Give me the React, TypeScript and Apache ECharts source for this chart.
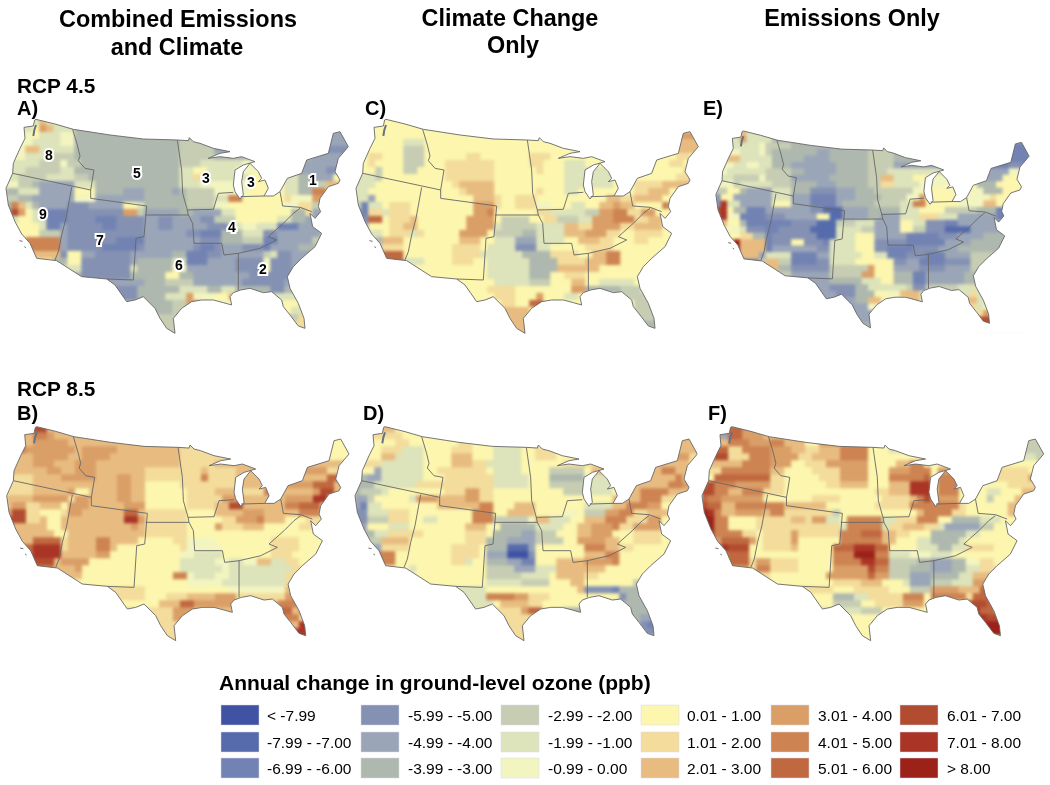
import React, { useEffect, useRef } from "react";
import * as echarts from "echarts";

const legendLabels = ["< -7.99","-7.99 - -7.00","-6.99 - -6.00","-5.99 - -5.00","-4.99 - -4.00","-3.99 - -3.00","-2.99 - -2.00","-1.99 - -1.00","-0.99 - 0.00","0.01 - 1.00","1.01 - 2.00","2.01 - 3.00","3.01 - 4.00","4.01 - 5.00","5.01 - 6.00","6.01 - 7.00","7.01 - 8.00","> 8.00"];
const classColors = ["#3f52a3","#566bac","#7283b3","#8491b3","#9aa5b8","#aeb8ae","#c6cdb3","#dde3ba","#f3f5c0","#fcf6ae","#f3dc9c","#e8bc80","#da9e67","#cd8352","#c06840","#b24c30","#aa3526","#9c2119"];
const classKeys = "abcdefghijklmnopqr";

// Each row: class letter + the column at which that class stops.
const panelA = [
"h5 l6 h50","h4 j5 m6 l7 h10 f50","i4 j5 h8 i10 f44 e50","i4 h8 i10 f25 g46 e50","i3 l5 h10 f25 g30 e45 d50","i3 h7 g10 f25 g30 f44 e50",
"h5 g8 i9 g11 f25 g28 h34 i42 e50","h3 g8 h10 f25 h27 j29 h33 i37 i42 e46 d49 j50","h2 g6 h10 g12 f25 h27 k29 h35 j40 h42 f44 e47 j50",
"i2 g4 f5 e10 h13 f25 h28 i35 j40 h42 f44 g46 l48 j50","f2 h5 e10 j13 f17 e20 f24 e25 f26 g30 i35 j40 h42 f44 n46 j50","g2 f4 e10 i13 e20 f26 g30 h32 n34 j40 k41 i44 m46 j50",
"f1 n2 l3 h4 f5 e9 d12 e17 j19 h20 f26 g30 i32 j40 i42 k44 g46 j50","e1 p2 m3 j4 h5 e6 c9 d17 m19 g20 e25 f27 e31 h33 j41 f43 k44 e50","h2 j4 h6 c9 d13 c16 d20 e22 d24 e28 d30 g33 j39 h41 f43 e50",
"j5 h6 c8 e9 d14 c16 d20 e22 d24 e29 d32 h34 i36 h39 c42 e50","j5 g8 e9 d20 e26 d28 c31 f34 h37 d39 e45 f50","i3 n8 e9 d16 c20 e28 d31 f34 g37 c39 e44 g50",
"j3 n8 e9 d14 c19 d20 e27 d28 c30 d31 e34 d37 c38 e42 f50","l8 d9 j11 e13 d18 e24 f26 c29 d31 e37 g38 h39 d41 e50","k7 f9 j11 d18 e19 f24 h26 c29 e33 d37 i38 d41 e50",
"h11 d18 h19 f24 j25 i26 e33 d37 j38 d41 e50","f11 d18 f23 j25 f27 e35 d50","e20 f23 g27 e34 d40 e50","d19 f25 h29 f31 h33 f38 d40 f50",
"d19 f23 h26 m27 i30 j32 l33 i38 h50","f24 g26 m28 i40 j42 h50","f24 g28 i40 j41 h50","g42 k43 i50","g40 k50","g50",
];
const panelC = [
"j50","j50","j44 m50","j7 h10 j44 l50","j7 g10 j46 l50","j2 k4 j7 g10 j16 k18 j25 k28 j46 k48 j50",
"j2 k3 j7 g10 j13 k20 j25 k27 j30 h33 j45 k47 j50","j3 g4 j7 g9 j13 k20 j26 k27 j30 h37 j47 k48 j50","h3 g4 j13 k20 j30 h37 j46 k48 l50",
"h3 j14 k15 l20 j30 h37 j40 k44 l48 k50","h2 j15 k16 l20 j26 k27 j30 h32 j40 k42 l45 j50","h2 e3 j17 l20 k21 j23 k26 j36 l38 k40 l44 j50",
"g1 c2 h4 j5 k8 j17 m20 k21 j23 k26 i28 j31 h33 j35 l37 m38 l40 j44 n45 j50","e1 c2 k4 h5 k8 j17 m19 n20 j26 k28 h33 g35 m37 n39 k41 m43 j50","d2 o4 j5 k8 l9 j16 m20 j21 g25 j27 k29 g32 h34 m37 n40 k42 l44 j50",
"e2 j5 k7 l9 j16 m20 h21 g26 h30 l32 k34 m38 k40 l44 j50","h4 j5 k8 h9 k10 j15 m19 j20 g24 f26 h30 l33 m36 k38 j40 k44 j50","i3 f4 l7 j15 l18 j20 h23 e26 h30 j32 l35 k37 j40 k42 j50",
"g4 k7 j14 k18 j19 h23 d26 h28 j33 k37 j50","o7 j14 k18 h24 f28 k32 j34 l36 n38 j50","o7 h10 j14 k17 j19 h25 f29 k33 l36 n38 j50",
"j19 h25 f29 l33 l35 j50","j19 h25 f28 j30 k33 j50","j20 h25 g28 j31 l33 j35 h40 j50","j19 k23 j31 m33 f38 g41 j50",
"j20 k23 j26 m27 j30 h32 j38 g50","j21 k23 j25 o27 j40 g50","l25 j40 g50","l26 g50","l30 f50","l50",
];
const panelE = [
"h4 l5 h50","h4 m5 h9 f50","h7 i8 g12 f24 g45 c50","i4 h7 i8 g9 f16 e18 f24 g28 f40 c50","h2 l4 h9 f14 e18 f24 g28 f43 c50","i3 h5 i7 h9 f12 e19 f24 g28 e42 c46 d50",
"i2 h8 g12 f14 e19 f24 g27 h42 e46 i50","h3 g7 i8 g12 e18 f24 g26 l28 h31 j33 i42 e45 j50","i3 g4 h9 g12 f16 e19 f24 g26 k28 h32 i37 j41 f44 j50",
"g2 j4 f5 e9 h12 f15 d19 e22 f25 g31 i33 j37 i42 f45 j50","d1 j3 e9 h12 e15 c19 e22 f26 g30 i32 m33 j38 h39 i43 k44 j50","d1 q2 h4 e9 j12 e15 c19 e20 f25 g29 h31 n33 j38 i42 l44 j50",
"p1 q2 j3 f5 c8 e15 d17 b20 e24 f29 h32 j36 g41 f44 c46 e50","p1 q2 i4 c8 d11 e16 j18 b20 e24 f26 e29 h32 k35 h38 e44 c46 e50","l2 j4 f5 c8 c12 d16 b19 g22 h25 e29 j31 h33 d36 c38 e50",
"i4 h5 d8 c10 d15 b19 h23 g25 e29 j31 g33 d36 b40 e50","j4 k6 f8 c9 d16 b19 h22 j25 e30 c35 d38 e42 f50","k3 r4 l8 c9 d12 j14 d17 c18 h22 j25 d30 c36 e40 f50",
"r4 l8 c9 e16 d18 h22 j25 d27 c31 d35 e38 f50","l7 e8 h12 c16 e18 h23 j25 h27 c30 d33 c36 e40 g50","d7 g8 l10 g12 c16 d18 h22 j28 d30 e32 c36 d40 g50",
"g8 l10 f12 d18 g24 m25 j28 e32 d36 e40 g50","g12 e18 g23 m25 j28 f31 c33 e39 f50","e18 f23 h26 j28 f31 c33 e39 f50","e18 d22 f24 h30 g31 d33 g38 h50",
"e19 d22 f25 j27 i29 l32 h40 k41 h50","e22 f24 l26 i30 l32 h39 l41 h50","e24 i28 j39 k41 h42 i50","e40 i41 k42 m50","e41 p50","f40 n50",
];
const panelB = [
"o4 p6 l50","l4 n6 m7 l44 j50","l4 m9 l25 k44 j50","n3 m10 l11 m16 l25 k44 j50","l4 m9 l11 m15 l25 k43 j50","l4 m7 l10 m13 l25 k30 l50",
"l6 m8 l10 m13 l20 k28 l29 k33 l42 m46 k48 l50","k4 l8 m13 l16 m18 l20 k28 n29 k33 l40 m42 l46 o49 l50","k4 l16 m18 l20 j25 k33 l40 m44 o47 l50",
"k4 l9 m10 j12 l16 m18 l20 j26 k30 l33 k37 n38 l44 m45 p47 l50","l4 m9 k10 m12 l16 m18 l20 j26 k31 m34 l40 m44 q46 l50","l1 m3 k5 l8 j9 m12 l17 m20 j26 k30 l32 p34 l40 n42 o45 l50",
"m1 p3 k5 j8 k9 m11 l17 o19 l20 k26 j30 l34 m37 l42 n45 k50","p3 k5 l6 j8 l17 q19 m20 k26 j31 k33 m36 n37 l40 j43 k50","l6 j8 l18 m19 l20 k26 j30 m31 k34 l37 j42 k50",
"l7 j9 l20 k26 j50","l4 o8 k9 l13 n15 l19 j24 k26 i30 j38 k42 j50","o4 q8 k9 l13 n15 l16 j25 k26 i31 j38 k42 j50",
"o4 q8 l13 m15 j25 i27 h31 j38 k41 j50","p7 l8 m12 j25 h30 i32 h34 i36 l38 h40 k42 j50","n7 l10 m11 j25 h31 i32 h41 k50",
"l11 j24 n26 i27 h30 i32 h40 k50","j26 i31 h40 k50","k20 j32 i40 l50","k20 j23 k26 l30 m33 k40 m50",
"j22 l25 o27 m33 l39 n50","k24 m27 l39 o41 l42 m50","k24 m26 k39 n42 k50","k26 l42 q50","k26 q50","k26 p50",
];
const panelD = [
"l6 j50","k7 j44 m50","j6 k8 j15 k17 j20 i24 j25 k29 j45 l50","j4 k7 h10 j14 k17 j20 h24 j26 k29 j46 l50","j4 l6 h10 j14 l17 j20 h24 j26 k29 j43 l46 m48 k50","k4 h10 j14 l17 k19 h24 j30 k40 l48 j50",
"j3 e4 h10 j12 k19 j20 h24 j28 g33 j34 l44 n46 l48 j50","f2 e4 h10 j13 k20 h25 j28 f33 i34 h37 j40 l46 n47 l50","f3 h9 k20 h25 j28 g33 h37 j40 l45 n47 m50",
"f1 g4 h5 j13 k16 m18 k20 j30 g33 h37 j39 l41 n45 l48 j50","e2 g3 j8 h9 m12 l16 m18 k20 j37 l41 n44 k46 j50","e1 c2 h4 j12 l18 n20 j23 l26 j33 h37 l39 n42 m44 j50",
"d2 h5 k8 j17 n20 j22 l26 j30 i32 j33 g36 m38 n40 k42 l45 j50","d2 g5 k8 j10 h12 j17 n20 g25 i26 l28 h31 j33 l36 n39 k42 m44 j50","e2 j5 h8 j16 l19 j21 f26 h30 j32 l34 m37 n38 k40 m44 j50",
"f3 h5 k10 j16 k19 j20 f24 e26 g29 j32 l34 m37 j40 k44 j50","g4 l8 j16 k19 f22 e26 g30 j32 m36 l38 j40 k44 j50","e4 k8 j14 k18 j19 f22 b25 e26 j33 n36 l38 k40 j50",
"n6 j14 k18 j19 e22 a25 d26 j33 l36 n38 j50","n6 j14 k16 h17 j19 f22 e24 c26 j29 l33 m37 n38 j50","j8 h9 j19 g23 e26 h29 l36 j50",
"j19 g24 h28 j29 l33 k35 j50","j19 h24 g28 j31 l33 j40 g41 j50","h19 j32 l33 d37 c38 f41 g50","h19 n23 m25 k28 j38 d39 f42 g50",
"h20 j21 l25 k27 j33 f50","k24 m25 o27 j30 f50","k26 f41 e50","k26 f41 d42 c50","k26 d50","k50",
];
const panelF = [
"n4 o6 m50","m3 e4 o6 m9 l13 m14 l15 j16 m24 k50","l4 n7 m10 n12 l15 j17 m24 j44 g50","o4 k6 n10 m13 l15 k17 l20 n24 j27 h29 j46 g50","n2 p4 k7 n10 m14 k16 l20 n24 j44 h48 g50","l6 n10 m13 j15 k18 m24 j28 l30 n32 j50",
"k3 n10 l12 j16 k20 m24 j27 m30 n33 j34 m37 j42 k47 j50","j2 o10 k12 j17 k20 m24 j27 n32 o33 j34 n37 j40 n42 k47 m50","o1 p2 n5 m10 k12 j18 k20 l24 j27 l30 q33 j34 n37 j44 k48 l50",
"p2 n4 l6 n9 k12 j20 j25 k27 l30 q33 j34 n37 j41 h43 j46 l49 j50","o1 n3 m9 j16 k20 j26 k30 l31 n32 p33 m37 j41 g42 j45 l47 j50","p1 o3 l5 n12 l18 j25 k30 n37 k38 j44 l46 j50",
"r1 q2 n3 l5 m9 l10 n12 k19 g20 j31 l32 n36 k38 j44 l46 j50","r2 n4 j8 k13 l15 k16 m18 h20 j21 n26 h28 k31 n34 j36 f40 h43 j50","r2 n4 j8 k20 h21 n26 h27 k29 l32 k34 h35 e40 g42 j50",
"q2 n6 k8 j9 k13 m14 k20 n23 o26 l28 k30 j33 f38 h40 j50","m3 o7 m8 j9 k13 m14 j20 n26 l28 j31 h33 f37 h38 j50","n3 q4 p7 j9 k13 l14 j19 o22 q25 o27 j31 h34 f36 h38 k42 j50",
"n4 o7 j19 n22 r25 n27 h30 i33 h36 j50","o7 k8 m10 k14 j19 n23 q25 o27 g31 f33 e36 f38 i40 k42 j50","m7 k8 n10 k14 j19 m24 p25 n27 g30 f33 e36 f38 h40 k50",
"k10 j18 m24 o25 m27 g30 e33 f37 h39 l50","j19 k23 l26 j29 h30 e33 g36 h39 m50","k19 j22 k27 j30 g33 m37 l40 o50","j19 f22 h24 k29 n32 j33 n38 k39 o50",
"j19 g23 j25 k29 m32 j38 p41 o50","h23 g26 j38 q40 o42 n50","j39 q41 p50","j40 q41 r50","j40 r50","j50",
];

const outline = [[108,148],[165,162],[220,178],[330,195],[430,207],[532,210],[565,212],[568,203],[580,215],[600,220],[640,235],[690,245],[660,250],[625,265],[660,260],[700,265],[725,260],[765,275],[730,285],[705,300],[700,345],[705,365],[720,387],[730,375],[725,335],[730,305],[750,280],[775,305],[785,325],[775,335],[795,330],[805,355],[792,378],[820,378],[840,365],[862,325],[905,310],[920,270],[985,250],[1000,190],[1020,185],[1045,230],[1015,265],[1005,305],[1020,330],[1015,340],[985,350],[960,385],[955,410],[962,425],[945,445],[930,430],[938,470],[965,490],[945,530],[905,565],[880,590],[862,620],[870,655],[895,700],[912,745],[915,775],[895,768],[870,735],[850,710],[845,690],[815,665],[790,668],[750,655],[722,660],[700,668],[690,680],[695,705],[670,698],[640,690],[605,690],[575,695],[545,715],[520,745],[525,790],[500,775],[480,745],[465,715],[430,680],[405,690],[380,695],[345,645],[320,627],[245,620],[170,572],[110,565],[90,520],[65,492],[45,455],[25,405],[18,355],[38,310],[40,280],[60,235],[75,205],[72,172],[100,168],[104,150],[108,148]];
const regionLines = [
[[38,310],[272,360]],
[[218,178],[232,225],[240,258],[235,272],[255,295],[282,300],[272,360],[272,385]],
[[272,385],[440,408],[432,500],[408,505],[400,630],[320,627]],
[[215,352],[198,445],[185,495],[175,545],[165,570]],
[[532,210],[545,300],[548,370],[562,420],[565,435]],
[[435,435],[565,435],[578,460],[582,520],[665,520],[672,555],[715,550],[715,660]],
[[562,420],[640,418],[655,370],[700,367]],
[[715,550],[780,535],[830,510],[805,500],[850,460],[880,430],[900,415]],
[[840,365],[848,408],[900,412],[935,425]],
[[722,380],[792,378]],
[[58,512],[68,514]],
[[73,530],[78,533]],
];
const pugetSound = [[108,165],[103,180],[100,198]];
const regionNumbers = [["8",49,155],["5",137,173],["3",206,178],["3",251,182],["1",313,180],["9",43,214],["7",100,240],["4",232,227],["6",179,265],["2",263,269]];

const CELL = 21, X0 = 14, Y0 = 145, COLS = 50;
const XMAX = X0 + CELL * COLS, YMIN = 130, YMAX = 800;
const CLIP_L = 18, CLIP_R = 1048;

const panels = [
  { rows: panelA, left: 0, top: 113.33, sx: 1, sy: 1 },
  { rows: panelC, left: 350, top: 113.33, sx: 1, sy: 1 },
  { rows: panelE, left: 710.4, top: 125.5, sx: 0.915, sy: 0.92 },
  { rows: panelB, left: 0.7, top: 420.7, sx: 1, sy: 1 },
  { rows: panelD, left: 349, top: 420.7, sx: 1, sy: 1 },
  { rows: panelF, left: 696, top: 420.7, sx: 1, sy: 1 },
];

function rowsToRuns(rows: string[]) {
  const out: number[][] = [];
  rows.forEach((row, r) => {
    let start = 0;
    row.split(" ").forEach((tok) => {
      const idx = classKeys.indexOf(tok[0]);
      const end = parseInt(tok.slice(1), 10);
      if (end > start) out.push([X0 + start * CELL, Y0 + r * CELL, (end - start) * CELL, idx]);
      start = Math.max(start, end);
    });
  });
  return out;
}

const FONT = '"Liberation Sans", Arial, sans-serif';
function label(text: string, x: number, y: number, size: number, align = "left", weight = "bold") {
  return { type: "text", x, y, z: 50, style: { text, fill: "#000", font: `${weight} ${size}px ${FONT}`, textAlign: align, textVerticalAlign: "middle" } };
}

function axes() {
  const grid: any[] = [], xAxis: any[] = [], yAxis: any[] = [];
  panels.forEach((p, i) => {
    grid.push({ left: p.left, top: p.top, width: (XMAX * p.sx) / 3, height: ((YMAX - YMIN) * p.sy) / 3 });
    xAxis.push({ type: "value", gridIndex: i, min: 0, max: XMAX, show: false });
    yAxis.push({ type: "value", gridIndex: i, min: YMIN, max: YMAX, inverse: true, show: false });
  });
  return { grid, xAxis, yAxis };
}

function cellsOption() {
  const series: any[] = panels.map((p, i) => ({
    type: "custom", xAxisIndex: i, yAxisIndex: i, silent: true, encode: { x: 0, y: 1 },
    data: rowsToRuns(p.rows),
    renderItem: (_: any, api: any) => {
      const x = api.value(0), y = api.value(1), w = api.value(2), c = api.value(3);
      const a = api.coord([Math.max(x, CLIP_L), y]), b = api.coord([Math.min(x + w, CLIP_R), y + CELL]);
      return { type: "rect", shape: { x: a[0] - 0.4, y: a[1] - 0.4, width: b[0] - a[0] + 0.8, height: b[1] - a[1] + 0.8 }, style: { fill: classColors[c] } };
    },
  }));
  return { animation: false, ...axes(), series };
}

function overlayOption() {
  const series: any[] = [];
  panels.forEach((p, i) => {
    series.push({
      type: "custom", xAxisIndex: i, yAxisIndex: i, silent: true, encode: { x: 0, y: 1 },
      data: [[X0, Y0]],
      renderItem: (_: any, api: any) => {
        const L = CLIP_L - 13, R = CLIP_R + 12, T = Y0 - 10, B = Y0 + 31 * CELL + 10;
        const ring = [[L, T], [L, B], [R, B], [R, T], [L, T], ...outline, [L, T]];
        return { type: "polygon", shape: { points: ring.map((q) => api.coord(q)) }, style: { fill: "#fff", stroke: "none" } };
      },
    });
    const lines = [outline, ...regionLines];
    series.push({
      type: "custom", xAxisIndex: i, yAxisIndex: i, silent: true, encode: { x: 0, y: 1 },
      data: lines.map((_, k) => [X0, Y0, k]),
      renderItem: (_: any, api: any) => ({ type: "polyline", shape: { points: lines[api.value(2)].map((q) => api.coord(q)) }, style: { fill: "none", stroke: "#666", lineWidth: 0.9 } }),
    });
    series.push({
      type: "custom", xAxisIndex: i, yAxisIndex: i, silent: true, encode: { x: 0, y: 1 },
      data: [[X0, Y0]],
      renderItem: (_: any, api: any) => ({ type: "polyline", shape: { points: pugetSound.map((q) => api.coord(q)) }, style: { fill: "none", stroke: "#66727f", lineWidth: 2 } }),
    });
  });

  const graphic: any[] = [
    label("Combined Emissions", 178, 19, 23.4, "center"),
    label("and Climate", 177, 47, 23.4, "center"),
    label("Climate Change", 510, 18, 23.4, "center"),
    label("Only", 513, 45, 23.4, "center"),
    label("Emissions Only", 852, 18, 23.4, "center"),
    label("RCP 4.5", 17, 85, 20.8),
    label("A)", 17, 108, 20),
    label("C)", 365, 108, 20),
    label("E)", 703, 108, 20),
    label("RCP 8.5", 17, 388, 20.8),
    label("B)", 17, 413, 20),
    label("D)", 363, 413, 20),
    label("F)", 708, 413, 20),
    label("Annual change in ground-level ozone (ppb)", 219, 682, 21),
  ];
  regionNumbers.forEach(([t, x, y]) => {
    graphic.push({ type: "text", x, y, z: 50, style: { text: t, fill: "#000", stroke: "#fff", lineWidth: 4, font: `bold 14px ${FONT}`, textAlign: "center", textVerticalAlign: "middle" } });
  });
  const swatchX = [221, 361, 501, 641, 771, 900];
  const labelX = [267, 408, 548, 687, 818, 947];
  const rowY = [705, 732, 758];
  legendLabels.forEach((t, i) => {
    const col = Math.floor(i / 3), row = i % 3;
    graphic.push({ type: "rect", z: 50, shape: { x: swatchX[col], y: rowY[row], width: 38, height: 20 }, style: { fill: classColors[i], stroke: "#d8d8e8", lineWidth: 0.5 } });
    graphic.push(label(t, labelX[col], rowY[row] + 10, 15.5, "left", "normal"));
  });
  return { animation: false, ...axes(), series, graphic };
}

export default function App() {
  const under = useRef<HTMLDivElement>(null);
  const over = useRef<HTMLDivElement>(null);
  useEffect(() => {
    const a = echarts.init(under.current!, undefined, { renderer: "svg" });
    a.setOption(cellsOption() as any);
    const b = echarts.init(over.current!, undefined, { renderer: "svg" });
    b.setOption(overlayOption() as any);
    return () => { a.dispose(); b.dispose(); };
  }, []);
  const box: any = { position: "absolute", left: 0, top: 0, width: 1050, height: 785 };
  return (
    <>
      <div ref={under} style={{ ...box, filter: "blur(1.6px)" }} />
      <div ref={over} style={{ ...box, filter: "blur(0.45px)" }} />
    </>
  );
}
